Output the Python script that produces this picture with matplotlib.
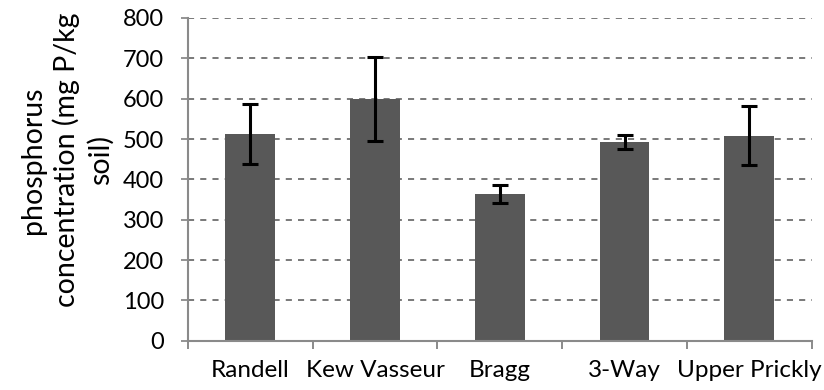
import numpy as np
import matplotlib.pyplot as plt

sites = ['Randell', 'Kew Vasseur', 'Bragg', '3-Way', 'Upper Prickly']
phosphorus = [512, 599, 364, 493, 508]
errors = [74, 104, 22, 17, 73]

plt.rcParams['font.family'] = ['Lato', 'DejaVu Sans']

fig = plt.figure(figsize=(8.24, 3.90), dpi=100)
ax = fig.add_axes([0.228, 0.126, 0.757, 0.828])

x = np.arange(len(sites))
ax.bar(x, phosphorus, width=0.4, color='#585858', zorder=2)
ax.errorbar(x, phosphorus, yerr=errors, fmt='none', ecolor='black',
            elinewidth=2.2, capsize=6, capthick=2.2, zorder=3)

ax.set_xlim(-0.5, len(sites) - 0.5)
ax.set_ylim(0, 800)
ax.set_yticks(np.arange(0, 801, 100))
ax.yaxis.grid(True, linestyle=(0, (4, 4)), color='#555555', linewidth=1.1, zorder=0)

ax.set_xticks(x)
ax.set_xticklabels(sites)
ax.set_xticks(np.arange(-0.5, len(sites)), minor=True)
ax.tick_params(axis='x', which='major', length=0, pad=14, labelsize=17.5)
ax.tick_params(axis='x', which='minor', length=6, width=1.2, color='#777777')
ax.tick_params(axis='y', length=5, width=1.1, color='#777777', pad=12, labelsize=17)

for side in ['top', 'right']:
    ax.spines[side].set_visible(False)
for side in ['left', 'bottom']:
    ax.spines[side].set_color('#8a8a8a')
    ax.spines[side].set_linewidth(1.5)

fig.text(0.081, 0.59, 'phosphorus\nconcentration (mg P/kg\nsoil)', rotation=90,
         ha='center', va='center', multialignment='center', fontsize=20.5,
         linespacing=1.3)

fig.savefig('out.png', dpi=100)
